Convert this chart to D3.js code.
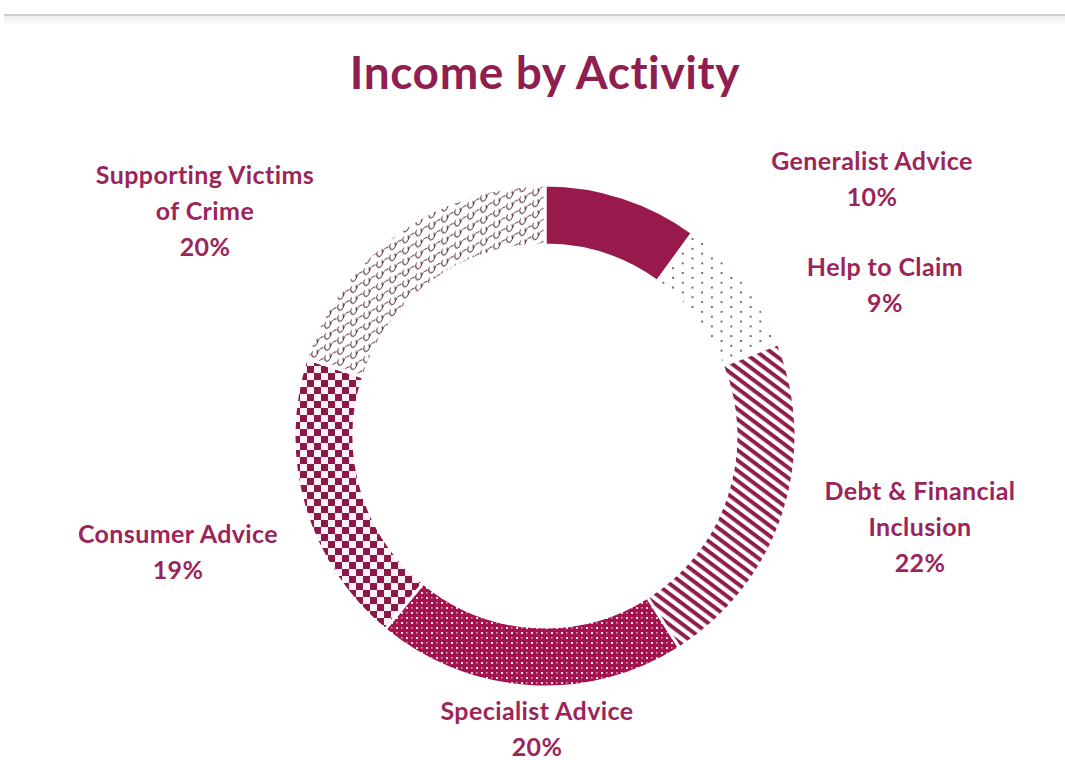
<!DOCTYPE html>
<html>
<head>
<meta charset="utf-8">
<script src="https://cdn.jsdelivr.net/npm/d3@7"></script>
<style>
  html, body { margin: 0; padding: 0; background: #ffffff; }
  svg { display: block; }
</style>
</head>
<body>
<script>
// Income split by activity (percent of total), clockwise from 12 o'clock
const categories = [
  "Generalist Advice",
  "Help to Claim",
  "Debt & Financial Inclusion",
  "Specialist Advice",
  "Consumer Advice",
  "Supporting Victims of Crime"
];
const values = [10, 9, 22, 20, 19, 20];
const labelLines = [
  ["Generalist Advice"],
  ["Help to Claim"],
  ["Debt & Financial", "Inclusion"],
  ["Specialist Advice"],
  ["Consumer Advice"],
  ["Supporting Victims", "of Crime"]
];
const fills = ["url(#p-solid)", "url(#p-dots)", "url(#p-stripes)", "url(#p-grid)", "url(#p-check)", "url(#p-wave)"];

// label anchor points (centre of first line)
const labelPos = [
  [872, 162], [885, 268], [920, 492], [537, 712], [178, 535], [205, 176]
];

const W = 1065, H = 760;
const cx = 545, cy = 436, rOuter = 251, rInner = 191;
const maroon = "#981a4c";
const labelColor = "#9b2559";

const svg = d3.select("body").append("svg")
  .attr("width", W).attr("height", H)
  .style("font-family", "Lato, 'Open Sans', sans-serif");

const defs = svg.append("defs");

// top rule with a faint shadow
const sh = defs.append("linearGradient").attr("id", "ruleShadow")
  .attr("x1", 0).attr("y1", 0).attr("x2", 0).attr("y2", 1);
sh.append("stop").attr("offset", 0).attr("stop-color", "#ececec");
sh.append("stop").attr("offset", 1).attr("stop-color", "#ffffff");
svg.append("rect").attr("x", 4).attr("y", 16).attr("width", W - 4).attr("height", 9).attr("fill", "url(#ruleShadow)");
svg.append("rect").attr("x", 4).attr("y", 14).attr("width", W - 4).attr("height", 2).attr("fill", "#cfcfcf");

// patterns
defs.append("pattern").attr("id", "p-solid").attr("patternUnits", "userSpaceOnUse")
  .attr("width", 10).attr("height", 10)
  .append("rect").attr("width", 10).attr("height", 10).attr("fill", maroon);

const pd = defs.append("pattern").attr("id", "p-dots").attr("patternUnits", "userSpaceOnUse")
  .attr("width", 19.4).attr("height", 9.7);
pd.append("rect").attr("width", 19.4).attr("height", 9.7).attr("fill", "#fff");
pd.append("circle").attr("cx", 2).attr("cy", 2).attr("r", 1).attr("fill", "#4e3440");
pd.append("circle").attr("cx", 11.7).attr("cy", 6.85).attr("r", 1).attr("fill", "#4e3440");

const ps = defs.append("pattern").attr("id", "p-stripes").attr("patternUnits", "userSpaceOnUse")
  .attr("width", 8.2).attr("height", 8.2)
  .attr("patternTransform", "rotate(37)");
ps.append("rect").attr("width", 8.2).attr("height", 8.2).attr("fill", "#fff");
ps.append("rect").attr("x", 0).attr("y", 0).attr("width", 8.2).attr("height", 4).attr("fill", "#8e1e4c");

const pg = defs.append("pattern").attr("id", "p-grid").attr("patternUnits", "userSpaceOnUse")
  .attr("width", 10).attr("height", 10);
pg.append("rect").attr("width", 10).attr("height", 10).attr("fill", "#a3134d");
pg.append("rect").attr("x", 1).attr("y", 1).attr("width", 2).attr("height", 2).attr("fill", "#fbe3ee");
pg.append("rect").attr("x", 6).attr("y", 6).attr("width", 2).attr("height", 2).attr("fill", "#fbe3ee");
pg.append("rect").attr("x", 6).attr("y", 1).attr("width", 1.6).attr("height", 1.6).attr("fill", "#e58db2");
pg.append("rect").attr("x", 1).attr("y", 6).attr("width", 1.6).attr("height", 1.6).attr("fill", "#e58db2");

const pc = defs.append("pattern").attr("id", "p-check").attr("patternUnits", "userSpaceOnUse")
  .attr("width", 14).attr("height", 14);
pc.append("rect").attr("width", 14).attr("height", 14).attr("fill", "#fdf0f5");
pc.append("rect").attr("x", 0).attr("y", 0).attr("width", 7).attr("height", 7).attr("fill", "#8a1848");
pc.append("rect").attr("x", 7).attr("y", 7).attr("width", 7).attr("height", 7).attr("fill", "#8a1848");

// wave/shingle hatch: hooked U-curves stepping up to the right
const pw = defs.append("pattern").attr("id", "p-wave").attr("patternUnits", "userSpaceOnUse")
  .attr("width", 13).attr("height", 11).attr("patternTransform", "skewY(-28)");
pw.append("rect").attr("width", 13).attr("height", 11).attr("fill", "#fff");
pw.append("path")
  .attr("d", "M0.5,3 C1.5,8 5,9 6.5,5.5 C7.5,2 10.5,1.5 12.5,3 M6.5,5.5 L6,1.5 M0.5,3 L1.5,0.5")
  .attr("fill", "none").attr("stroke", "#5e3048").attr("stroke-width", 1);

// title
svg.append("text")
  .attr("x", 545).attr("y", 89)
  .attr("text-anchor", "middle")
  .attr("font-size", 46).attr("font-weight", 700)
  .attr("letter-spacing", 0.6)
  .attr("fill", "#8e1f50")
  .text("Income by Activity");

// donut
const pie = d3.pie().sort(null).value(d => d).startAngle(0).endAngle(2 * Math.PI);
const arc = d3.arc().innerRadius(rInner).outerRadius(rOuter);
const arcs = pie(values);

const g = svg.append("g").attr("transform", `translate(${cx},${cy})`);
g.selectAll("path.slice").data(arcs).join("path")
  .attr("class", "slice")
  .attr("d", arc)
  .attr("fill", (d, i) => fills[i])
  .attr("stroke", "#fff")
  .attr("stroke-width", 3);

// labels: category name plus its share
const lineH = 36;
const lab = svg.append("g").attr("font-size", 25).attr("font-weight", 700)
  .attr("letter-spacing", 0.4)
  .attr("fill", labelColor).attr("text-anchor", "middle");
categories.forEach((c, i) => {
  const [x, y] = labelPos[i];
  const t = lab.append("text").attr("x", x).attr("y", y + 8);
  const lines = labelLines[i].concat([values[i] + "%"]);
  lines.forEach((ln, k) => {
    t.append("tspan").attr("x", x).attr("dy", k === 0 ? 0 : lineH).text(ln);
  });
});
</script>
</body>
</html>
